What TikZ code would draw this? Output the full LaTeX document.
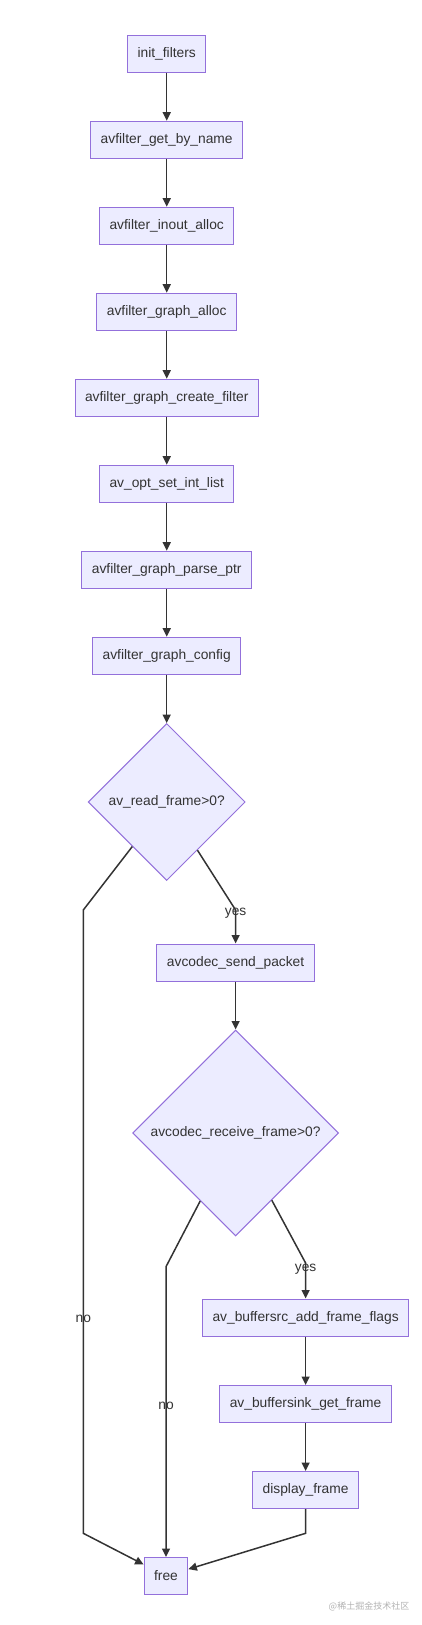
\documentclass[tikz,border=0pt]{standalone}
\usepackage{fontspec}
\setmainfont{Liberation Sans}
\newfontfamily\cjkfont{Noto Sans CJK SC}
\usetikzlibrary{shapes.geometric,arrows.meta}
\definecolor{boxfill}{HTML}{ECECFF}
\definecolor{boxline}{HTML}{9370DB}
\definecolor{ink}{HTML}{333333}

\begin{document}
\begin{tikzpicture}[x=1pt,y=-1pt,
  box/.style={rectangle,draw=boxline,fill=boxfill,line width=1pt,minimum height=37pt,inner xsep=10pt,text=ink,font=\fontsize{13.8}{16}\selectfont},
  cond/.style={diamond,aspect=1,draw=boxline,fill=boxfill,line width=1pt,inner sep=0pt,text=ink,font=\fontsize{13.8}{16}\selectfont},
  flow/.style={draw=ink,line width=1.5pt,-{Triangle[length=8.5pt,width=8pt]}},
  lbl/.style={text=ink,inner sep=1pt,font=\fontsize{13.8}{16}\selectfont}]
\useasboundingbox (0,0) rectangle (422,1625);

\coordinate (H1) at (83.3,910);
\coordinate (H2) at (83.3,1533.3);
\coordinate (Y1) at (235.6,910);
\coordinate (H3) at (166,1266.7);
\coordinate (Y2) at (305.6,1263);
\coordinate (D1) at (305.6,1533.3);

\node[box] (init) at (166.7,53.7) {init\_filters};
\node[box] (byname) at (166.7,139.7) {avfilter\_get\_by\_name};
\node[box] (inout) at (166.7,225.7) {avfilter\_inout\_alloc};
\node[box] (galloc) at (166.7,311.7) {avfilter\_graph\_alloc};
\node[box] (create) at (166.7,397.7) {avfilter\_graph\_create\_filter};
\node[box] (optset) at (166.7,483.7) {av\_opt\_set\_int\_list};
\node[box] (parse) at (166.7,569.7) {avfilter\_graph\_parse\_ptr};
\node[box] (config) at (166.7,655.7) {avfilter\_graph\_config};
\node[cond,minimum width=157pt,minimum height=157pt] (read) at (166.7,802) {av\_read\_frame>0?};
\node[box] (send) at (235.6,962.5) {avcodec\_send\_packet};
\node[cond,minimum width=206pt,minimum height=206pt] (recv) at (235.6,1133) {avcodec\_receive\_frame>0?};
\node[box] (src) at (305.6,1317.5) {av\_buffersrc\_add\_frame\_flags};
\node[box] (sink) at (305.6,1404) {av\_buffersink\_get\_frame};
\node[box] (disp) at (305.6,1490) {display\_frame};
\node[box] (free) at (166,1576) {free};

\draw[flow] (init) -- (byname);
\draw[flow] (byname) -- (inout);
\draw[flow] (inout) -- (galloc);
\draw[flow] (galloc) -- (create);
\draw[flow] (create) -- (optset);
\draw[flow] (optset) -- (parse);
\draw[flow] (parse) -- (config);
\draw[flow] (config) -- (read);
\draw[flow] (read) -- (Y1) node[lbl,yshift=-3pt] {yes} -- (send);
\draw[flow] (read) -- (H1) -- node[lbl,pos=0.656] {no} (H2) -- (free);
\draw[flow] (send) -- (recv);
\draw[flow] (recv) -- (Y2) node[lbl,yshift=-6pt] {yes} -- (src);
\draw[flow] (recv) -- (H3) -- node[lbl,pos=0.479] {no} (free);
\draw[flow] (src) -- (sink);
\draw[flow] (sink) -- (disp);
\draw[flow] (disp) -- (D1) -- (free);

\node[text=black!30,font=\cjkfont\fontsize{9}{10}\selectfont] (mark) at (369,1606) {@稀土掘金技术社区};
\end{tikzpicture}
\end{document}
